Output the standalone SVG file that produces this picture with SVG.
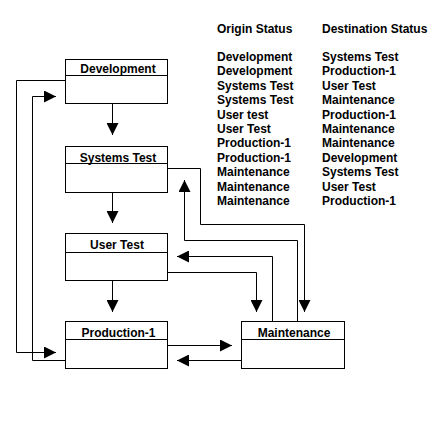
<svg xmlns="http://www.w3.org/2000/svg" width="439" height="439" viewBox="0 0 439 439">
<style>
.box{fill:#fff;stroke:#000;stroke-width:1}
.hl{stroke:#000;stroke-width:1}
.t{font-family:"Liberation Sans",Arial,sans-serif;font-size:12px;font-weight:bold;fill:#000}
.title{text-anchor:middle}
.c{fill:none;stroke:#000;stroke-width:1;marker-end:url(#ah)}
</style>
<defs>
<marker id="ah" markerUnits="userSpaceOnUse" markerWidth="12" markerHeight="12" viewBox="0 0 10 10" refX="10" refY="5" orient="auto">
<path d="M0,0 L10,5 L0,10 Z" fill="#000"/>
</marker>
</defs>
<rect width="439" height="439" fill="#fff"/>
<g id="connectors">
<polyline class="c" points="112.5,103.5 112.5,135"/>
<polyline class="c" points="112.5,192.5 112.5,223"/>
<polyline class="c" points="112.5,280.5 112.5,312"/>
<polyline class="c" points="65,80.5 16.5,80.5 16.5,352.5 56,352.5"/>
<polyline class="c" points="65,360.5 32.5,360.5 32.5,96.5 56,96.5"/>
<polyline class="c" points="167.5,168.5 200.5,168.5 200.5,224.5 304.5,224.5 304.5,312"/>
<polyline class="c" points="297.5,321 297.5,240.5 184.5,240.5 184.5,180"/>
<polyline class="c" points="272.5,321 272.5,256.5 177,256.5"/>
<polyline class="c" points="167.5,272.5 256.5,272.5 256.5,312"/>
<polyline class="c" points="167.5,345.5 232,345.5"/>
<polyline class="c" points="241.5,360.5 177,360.5"/>
</g>
<g id="development">
<rect class="box" x="65.5" y="59.5" width="102" height="44"/>
<line class="hl" x1="65.5" y1="75.5" x2="167.5" y2="75.5"/>
<text class="t title" x="118" y="72.5">Development</text>
</g>
<g id="systems-test">
<rect class="box" x="65.5" y="146.5" width="102" height="46"/>
<line class="hl" x1="65.5" y1="163.5" x2="167.5" y2="163.5"/>
<text class="t title" x="118" y="161.5">Systems Test</text>
</g>
<g id="user-test">
<rect class="box" x="65.5" y="233.5" width="102" height="47"/>
<line class="hl" x1="65.5" y1="252.5" x2="167.5" y2="252.5"/>
<text class="t title" x="117" y="249">User Test</text>
</g>
<g id="production-1">
<rect class="box" x="65.5" y="321.5" width="102" height="47"/>
<line class="hl" x1="65.5" y1="339.5" x2="167.5" y2="339.5"/>
<text class="t title" x="118.5" y="336.5">Production-1</text>
</g>
<g id="maintenance">
<rect class="box" x="241.5" y="321.5" width="103" height="47"/>
<line class="hl" x1="241.5" y1="339.5" x2="344.5" y2="339.5"/>
<text class="t title" x="294" y="336.5">Maintenance</text>
</g>
<g id="table">
<text class="t" x="217" y="33">Origin Status</text>
<text class="t" x="322" y="33">Destination Status</text>
<text class="t" x="217" y="61">Development</text><text class="t" x="322" y="61">Systems Test</text>
<text class="t" x="217" y="75.4">Development</text><text class="t" x="322" y="75.4">Production-1</text>
<text class="t" x="217" y="89.8">Systems Test</text><text class="t" x="322" y="89.8">User Test</text>
<text class="t" x="217" y="104.2">Systems Test</text><text class="t" x="322" y="104.2">Maintenance</text>
<text class="t" x="217" y="118.6">User test</text><text class="t" x="322" y="118.6">Production-1</text>
<text class="t" x="217" y="133">User Test</text><text class="t" x="322" y="133">Maintenance</text>
<text class="t" x="217" y="147.4">Production-1</text><text class="t" x="322" y="147.4">Maintenance</text>
<text class="t" x="217" y="161.8">Production-1</text><text class="t" x="322" y="161.8">Development</text>
<text class="t" x="217" y="176.2">Maintenance</text><text class="t" x="322" y="176.2">Systems Test</text>
<text class="t" x="217" y="190.6">Maintenance</text><text class="t" x="322" y="190.6">User Test</text>
<text class="t" x="217" y="205">Maintenance</text><text class="t" x="322" y="205">Production-1</text>
</g>
</svg>
